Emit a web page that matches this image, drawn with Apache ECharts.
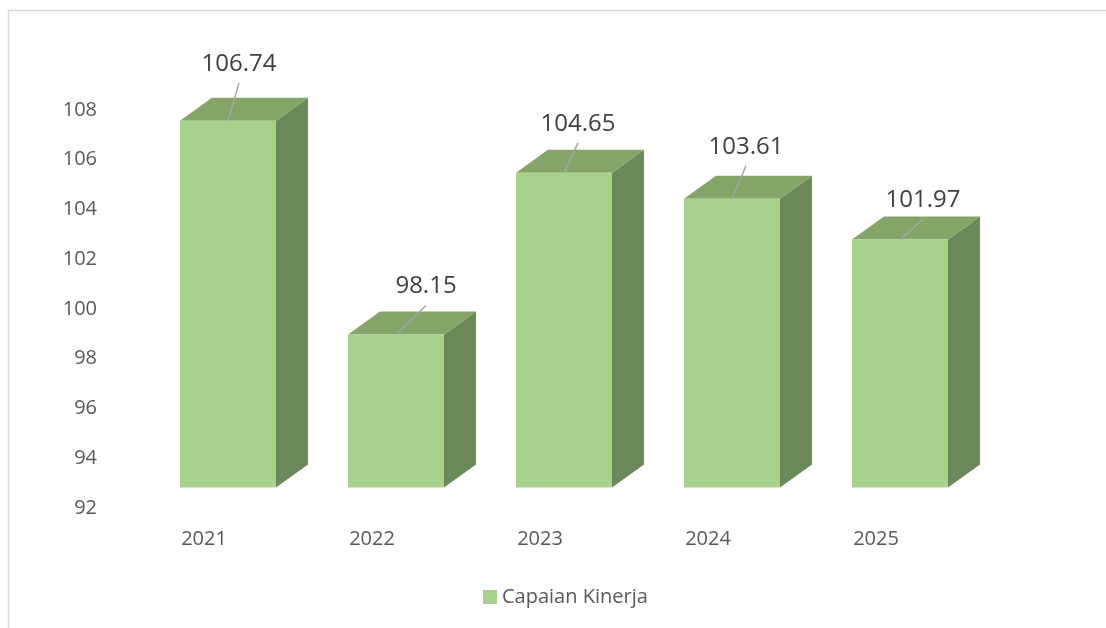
<!DOCTYPE html>
<html>
<head>
<meta charset="utf-8">
<title>Capaian Kinerja</title>
<script src="https://cdn.jsdelivr.net/npm/echarts@6/dist/echarts.min.js"></script>
<style>
  html, body { margin: 0; padding: 0; background: #fff; }
  #main { width: 1106px; height: 628px; }
</style>
</head>
<body>
<div id="main"></div>
<script>
// data
const years = ['2021', '2022', '2023', '2024', '2025']
const capaian = [106.74, 98.15, 104.65, 103.61, 101.97]
const yTicks = [92, 94, 96, 98, 100, 102, 104, 106, 108]

// label nudges (px) relative to the front-top centre, as placed in the original
const labelNudge = [[11, -57], [30, -48], [14, -49], [14, -52], [23, -39]]

const FONT = '"Open Sans", "Noto Sans", sans-serif'
const FRONT = '#A9D18E'
const TOP = '#84A468'
const SIDE = '#6C8A59'

const yMin = yTicks[0]
const yMax = yTicks[yTicks.length - 1]

const renderBar = (params, api) => {
  const idx = api.value(0)
  const val = api.value(1)
  const base = api.coord([idx, yMin])
  const top = api.coord([idx, val])
  const band = api.size([1, 0])[0]
  const lift = 20.5
  const w = band * 96 / 168
  const dx = band * 32 / 168
  const dy = 23
  const x0 = base[0] - band * 24 / 168
  const yb = base[1] - lift
  const yt = top[1] - lift
  const cx = x0 + w / 2
  const nudge = labelNudge[idx]
  return {
    type: 'group',
    children: [
      {
        type: 'polygon',
        shape: { points: [[x0 + w, yt], [x0 + w + dx, yt - dy], [x0 + w + dx, yb - dy], [x0 + w, yb]] },
        style: { fill: SIDE }
      },
      {
        type: 'polygon',
        shape: { points: [[x0, yt], [x0 + w, yt], [x0 + w + dx, yt - dy], [x0 + dx, yt - dy]] },
        style: { fill: TOP }
      },
      {
        type: 'rect',
        shape: { x: x0, y: yt, width: w, height: yb - yt },
        style: { fill: FRONT }
      },
      {
        type: 'line',
        shape: { x1: cx, y1: yt, x2: cx + nudge[0], y2: yt + nudge[1] + 19 },
        style: { stroke: '#A6A6A6', lineWidth: 1.5 }
      },
      {
        type: 'text',
        x: cx + nudge[0],
        y: yt + nudge[1],
        style: {
          text: val.toFixed(2),
          fill: '#404040',
          font: '24px ' + FONT,
          align: 'center',
          verticalAlign: 'middle'
        }
      }
    ]
  }
}

const chart = echarts.init(document.getElementById('main'))
chart.setOption({
  backgroundColor: '#fff',
  animation: false,
  textStyle: { fontFamily: FONT },
  graphic: [{
    type: 'rect',
    shape: { x: 8.5, y: 10.5, width: 1200, height: 700 },
    style: { fill: 'none', stroke: '#D9D9D9', lineWidth: 1.5 },
    silent: true
  }],
  grid: { left: 120, right: 146, top: 110, bottom: 120 },
  legend: {
    data: ['Capaian Kinerja'],
    left: 478,
    top: 582,
    icon: 'rect',
    itemWidth: 14,
    itemHeight: 14,
    itemGap: 6,
    textStyle: { color: '#595959', fontSize: 20, fontFamily: FONT }
  },
  xAxis: {
    type: 'category',
    data: years,
    axisLine: { show: false },
    axisTick: { show: false },
    axisLabel: { color: '#595959', fontSize: 20, margin: 21, fontFamily: FONT }
  },
  yAxis: {
    type: 'value',
    min: yMin,
    max: yMax,
    interval: 2,
    axisLine: { show: false },
    axisTick: { show: false },
    splitLine: { show: false },
    axisLabel: { color: '#595959', fontSize: 20, margin: 23, fontFamily: FONT }
  },
  series: [{
    name: 'Capaian Kinerja',
    type: 'custom',
    renderItem: renderBar,
    itemStyle: { color: FRONT },
    data: capaian.map((v, i) => [i, v]),
    encode: { x: 0, y: 1 }
  }]
})
</script>
</body>
</html>
